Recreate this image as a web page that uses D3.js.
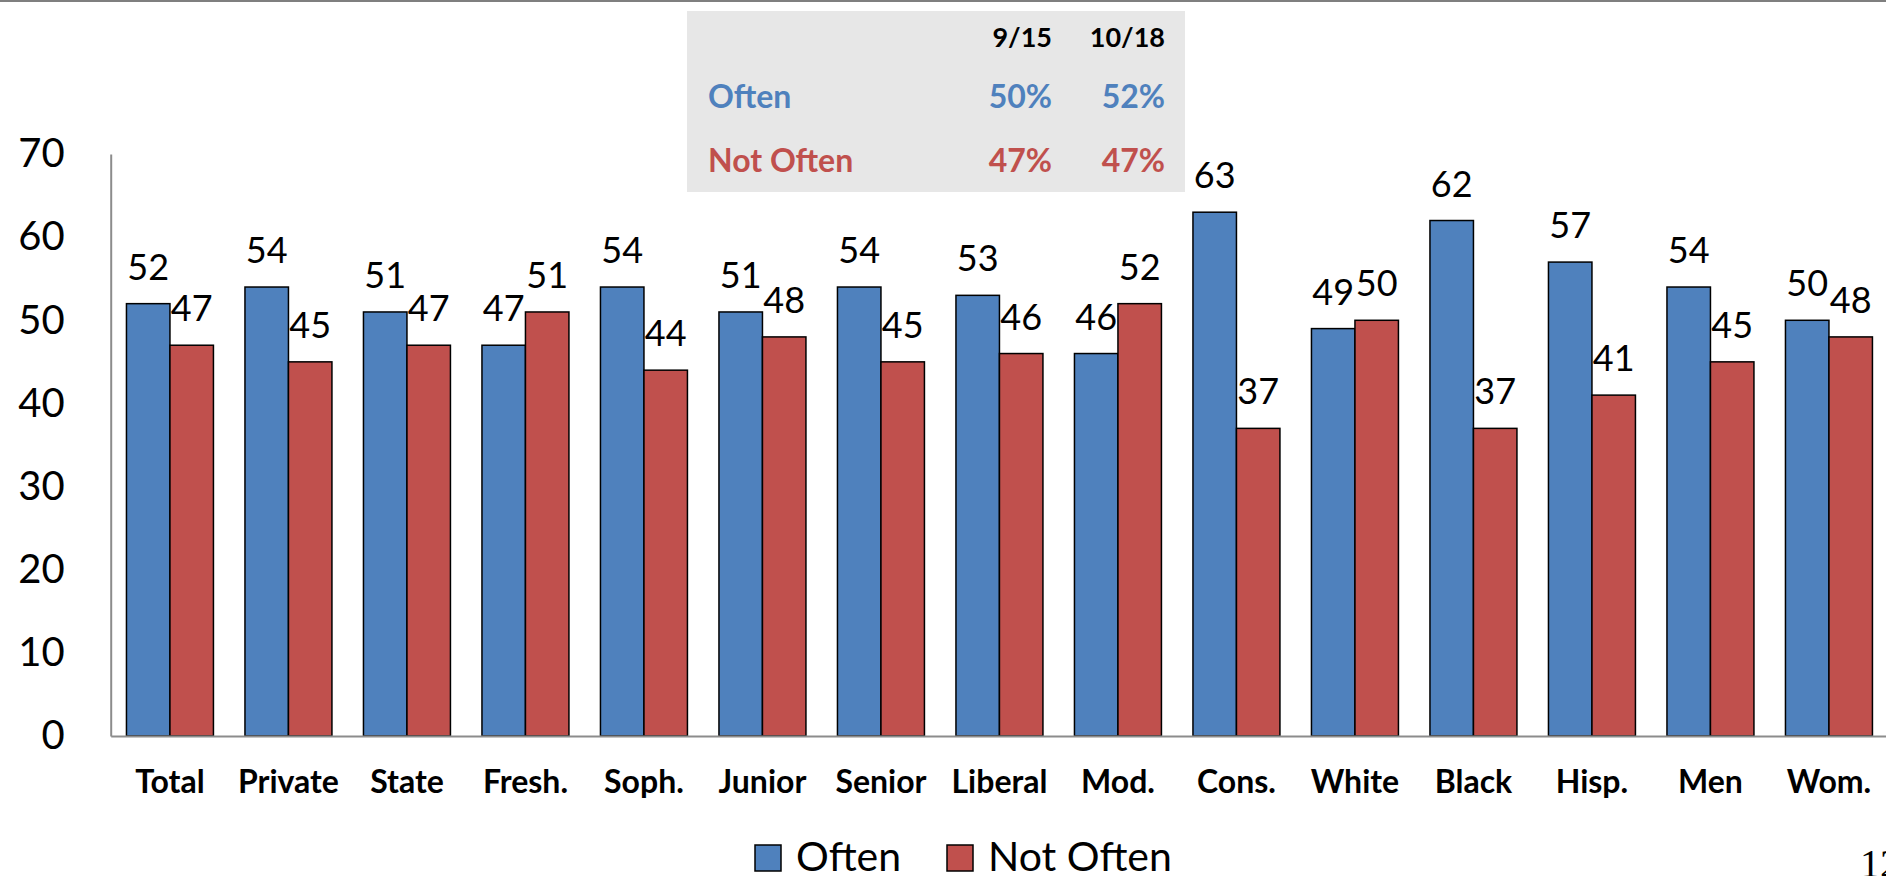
<!DOCTYPE html>
<html>
<head>
<meta charset="utf-8">
<script src="https://cdn.jsdelivr.net/npm/d3@7"></script>
<style>
  html, body { margin: 0; padding: 0; background: #fff; overflow: hidden; }
  svg { display: block; font-family: Lato, "Open Sans", sans-serif; }
</style>
</head>
<body>
<svg width="1886" height="876"></svg>
<script>
// chart data
const categories = ['Total', 'Private', 'State', 'Fresh.', 'Soph.', 'Junior', 'Senior',
  'Liberal', 'Mod.', 'Cons.', 'White', 'Black', 'Hisp.', 'Men', 'Wom.']
const seriesNames = ['Often', 'Not Often']
const often = [52, 54, 51, 47, 54, 51, 54, 53, 46, 63, 49, 62, 57, 54, 50]
const notOften = [47, 45, 47, 51, 44, 48, 45, 46, 52, 37, 50, 37, 41, 45, 48]
const yTicks = [0, 10, 20, 30, 40, 50, 60, 70]

// inset table
const tableCols = ['9/15', '10/18']
const tableOften = ['50%', '52%']
const tableNotOften = ['47%', '47%']

const colors = { 'Often': '#4f81bd', 'Not Often': '#c0504d' }

const svg = d3.select('svg')
const W = 1886

// top rule
svg.append('line')
  .attr('x1', 0).attr('x2', W).attr('y1', 1).attr('y2', 1)
  .attr('stroke', '#7f7f7f').attr('stroke-width', 2)

const left = 110.7
const x0 = d3.scaleBand().domain(categories).range([left, left + 15 * 118.5])
  .paddingInner(0.266).paddingOuter(0.133)
const x1 = d3.scaleBand().domain(seriesNames).range([0, x0.bandwidth()])
const y = d3.scaleLinear().domain([0, 70]).range([736, 154])

const rows = categories.map((c, i) => ({ cat: c, values: [often[i], notOften[i]] }))

// bars
const groups = svg.append('g').selectAll('g')
  .data(rows)
  .join('g')
  .attr('transform', (d) => `translate(${x0(d.cat)},0)`)

groups.selectAll('rect')
  .data((d) => d.values.map((v, j) => ({ key: seriesNames[j], v })))
  .join('rect')
  .attr('x', (d) => x1(d.key))
  .attr('width', x1.bandwidth())
  .attr('y', (d) => y(d.v))
  .attr('height', (d) => y(0) - y(d.v))
  .attr('fill', (d) => colors[d.key])
  .attr('stroke', '#000')
  .attr('stroke-width', 1.5)

// value labels
groups.selectAll('text')
  .data((d) => d.values.map((v, j) => ({ key: seriesNames[j], v })))
  .join('text')
  .attr('x', (d) => x1(d.key) + x1.bandwidth() / 2)
  .attr('y', (d) => y(d.v) - 24)
  .attr('text-anchor', 'middle')
  .attr('font-size', 36)
  .attr('fill', '#000')
  .text((d) => d.v)

// y axis
const yAxis = svg.append('g')
  .attr('transform', `translate(${left},0)`)
  .call(d3.axisLeft(y).tickValues(yTicks).tickSize(0).tickPadding(46))
yAxis.select('.domain').attr('stroke', '#8c8c8c').attr('stroke-width', 2)
yAxis.selectAll('text')
  .attr('font-family', 'Lato, sans-serif')
  .attr('font-size', 40)
  .attr('fill', '#000')

// x axis
const xAxis = svg.append('g')
  .attr('transform', `translate(0,${y(0)})`)
  .call(d3.axisBottom(x0).tickSize(0).tickSizeOuter(0).tickPadding(34))
xAxis.select('.domain').attr('stroke', '#8c8c8c').attr('stroke-width', 2)
xAxis.selectAll('text')
  .attr('font-family', 'Lato, sans-serif')
  .attr('font-size', 32)
  .attr('font-weight', 'bold')
  .attr('fill', '#000')

// legend
const legendX = [755, 947]
const legend = svg.append('g').selectAll('g')
  .data(seriesNames)
  .join('g')
  .attr('transform', (d, i) => `translate(${legendX[i]},845)`)
legend.append('rect')
  .attr('width', 26).attr('height', 26)
  .attr('fill', (d) => colors[d])
  .attr('stroke', '#000').attr('stroke-width', 1.5)
legend.append('text')
  .attr('x', 41).attr('y', 26)
  .attr('font-size', 41)
  .attr('fill', '#000')
  .text((d) => d)

// inset table
const tbl = svg.append('g')
tbl.append('rect')
  .attr('x', 687).attr('y', 11).attr('width', 498).attr('height', 181)
  .attr('fill', '#e7e7e7')
const colRight = [1052, 1165]
tbl.selectAll('.hdr')
  .data(tableCols)
  .join('text')
  .attr('class', 'hdr')
  .attr('x', (d, i) => colRight[i]).attr('y', 47)
  .attr('text-anchor', 'end')
  .attr('font-size', 27).attr('font-weight', 'bold')
  .attr('fill', '#000')
  .text((d) => d)
const tableRows = [
  { name: seriesNames[0], vals: tableOften, y: 108 },
  { name: seriesNames[1], vals: tableNotOften, y: 172 },
]
tableRows.forEach((r) => {
  tbl.append('text')
    .attr('x', 708).attr('y', r.y)
    .attr('font-size', 32).attr('font-weight', 'bold')
    .attr('fill', colors[r.name])
    .text(r.name)
  tbl.selectAll(null)
    .data(r.vals)
    .join('text')
    .attr('x', (d, i) => colRight[i]).attr('y', r.y)
    .attr('text-anchor', 'end')
    .attr('font-size', 32).attr('font-weight', 'bold')
    .attr('fill', colors[r.name])
    .text((d) => d)
})

// page number, cut off at the edge as in the slide
svg.append('text')
  .attr('x', 1860).attr('y', 877)
  .attr('font-family', '"Liberation Serif", serif')
  .attr('font-size', 40)
  .attr('fill', '#000')
  .text('12')
</script>
</body>
</html>
